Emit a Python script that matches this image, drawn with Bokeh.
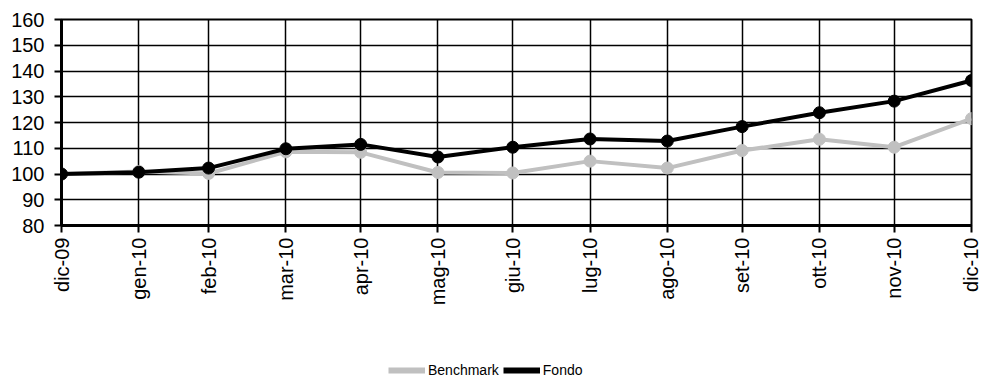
import pandas as pd
from bokeh.plotting import figure
from bokeh.layouts import column
from bokeh.models import FixedTicker, Legend, LegendItem, ColumnDataSource
from bokeh.embed import file_html
from bokeh.resources import INLINE

# ---- data ----
dates = ["2009-12-31", "2010-01-31", "2010-02-28", "2010-03-31", "2010-04-30",
         "2010-05-31", "2010-06-30", "2010-07-31", "2010-08-31", "2010-09-30",
         "2010-10-31", "2010-11-30", "2010-12-31"]
month_labels = ["dic-09", "gen-10", "feb-10", "mar-10", "apr-10", "mag-10", "giu-10",
                "lug-10", "ago-10", "set-10", "ott-10", "nov-10", "dic-10"]
benchmark = [100.0, 101.0, 100.2, 108.6, 108.4, 100.6, 100.4, 105.0, 102.3, 109.1, 113.5, 110.4, 121.5]
fondo = [100.0, 100.7, 102.3, 109.8, 111.5, 106.6, 110.4, 113.6, 112.8, 118.4, 123.8, 128.3, 136.3]
y_ticks = [80, 90, 100, 110, 120, 130, 140, 150, 160]
series_names = ["Benchmark", "Fondo"]

dt = pd.to_datetime(dates)
days = [int((d - dt[0]).days) for d in dt]

src = ColumnDataSource(dict(x=days, bench=benchmark, fondo=fondo))

FONT = "Liberation Sans"
GRAY = "#C0C0C0"

p = figure(width=981, height=345, x_range=(days[0], days[-1]), y_range=(80, 160),
           output_backend="svg", toolbar_location=None,
           min_border_left=61, min_border_right=10, min_border_top=19, min_border_bottom=120)

p.background_fill_color = "white"
p.border_fill_color = "white"
p.outline_line_color = "black"
p.outline_line_width = 2

# axes
p.xaxis.ticker = FixedTicker(ticks=days)
p.xaxis.major_label_overrides = {d: lab for d, lab in zip(days, month_labels)}
p.xaxis.major_label_orientation = 3.14159265 / 2
p.yaxis.ticker = FixedTicker(ticks=y_ticks)
for ax in (p.xaxis, p.yaxis):
    ax.axis_line_color = "black"
    ax.axis_line_width = 3
    ax.major_tick_line_color = "black"
    ax.major_tick_line_width = 2
    ax.major_tick_out = 7
    ax.major_tick_in = 0
    ax.minor_tick_line_color = None
    ax.major_label_text_font = FONT
    ax.major_label_text_font_size = "20px"
    ax.major_label_text_color = "black"
p.yaxis.major_label_standoff = 10
p.xaxis.major_label_standoff = 5

# grid
p.xgrid.ticker = FixedTicker(ticks=days)
p.ygrid.ticker = FixedTicker(ticks=y_ticks)
for g in (p.xgrid, p.ygrid):
    g.grid_line_color = "black"
    g.grid_line_alpha = 1.0
    g.grid_line_width = 1.5

# series
p.line("x", "bench", source=src, line_color=GRAY, line_width=4)
p.scatter("x", "bench", source=src, size=12, fill_color=GRAY, line_color=GRAY)
p.line("x", "fondo", source=src, line_color="black", line_width=4)
p.scatter("x", "fondo", source=src, size=12, fill_color="black", line_color="black")

# legend strip as a separate small figure (its frame aligns with the main frame)
lg = figure(width=981, height=33, output_backend="svg", toolbar_location=None,
            x_axis_type=None, y_axis_type=None, x_range=(0, 1), y_range=(0, 1),
            min_border=0)
lg.outline_line_color = None
lg.grid.visible = False
# series drawn far outside this strip's ranges, used only for the legend swatches
lb = lg.line("x", "bench", source=src, line_color=GRAY, line_width=6)
lf = lg.line("x", "fondo", source=src, line_color="black", line_width=6)
legend = Legend(items=[LegendItem(label=series_names[0], renderers=[lb]),
                       LegendItem(label=series_names[1], renderers=[lf])],
                location=(327, 0), orientation="horizontal",
                padding=0, margin=0, spacing=4, label_standoff=3,
                glyph_width=37, glyph_height=14,
                label_text_font=FONT, label_text_font_size="14px",
                label_text_color="black",
                border_line_color=None, background_fill_alpha=0)
lg.add_layout(legend)

open("out.html", "w").write(file_html(column(p, lg, spacing=0), INLINE))
